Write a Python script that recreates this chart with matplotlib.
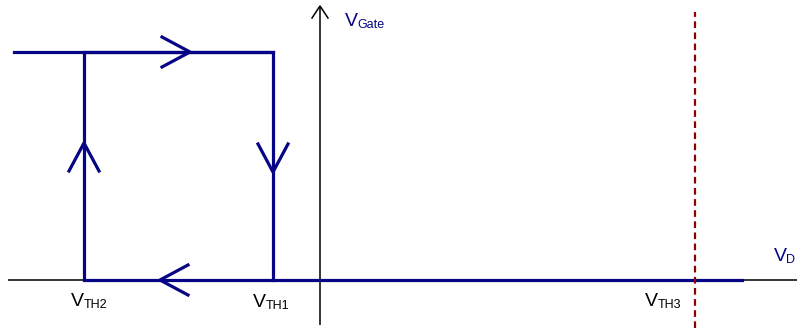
import matplotlib
matplotlib.use("Agg")
import matplotlib.pyplot as plt

plt.rcParams['font.family'] = ['Liberation Sans', 'DejaVu Sans']

# Diagram values (drain voltage on x, gate voltage on y, arbitrary units)
v_th2 = -236
v_th1 = -47
v_th3 = 375
gate_low = 0
gate_high = 228
sweep_start = -306
sweep_end = 422

# Loop path: top level, down at VTH1, back along bottom, up at VTH2
loop_x = [sweep_start, v_th1, v_th1]
loop_y = [gate_high, gate_high, gate_low]
return_x = [sweep_end, v_th2, v_th2, v_th1]
return_y = [gate_low, gate_low, gate_high, gate_high]

# Direction markers: (x, y, direction)
arrows = [(-130, gate_high, 'right'),
          (v_th1, 108, 'down'),
          (v_th2, 137, 'up'),
          (-160, gate_low, 'left')]

blue = '#050585'
red = '#8b0000'

fig = plt.figure(figsize=(7.97, 3.28), dpi=100)
ax = fig.add_axes([0, 0, 1, 1])
ax.set_xlim(-320, 477)
ax.set_ylim(-48, 280)
ax.axis('off')

# Axes of the diagram
ax.plot([-312, 477], [0, 0], color='black', lw=1.1, solid_capstyle='butt')
ax.plot([0, 0], [-45, 274], color='black', lw=1.1, solid_capstyle='butt')
ax.plot([-8, 0, 8], [262, 274, 262], color='black', lw=1.1)

# Hysteresis loop
ax.plot(loop_x, loop_y, color=blue, lw=2.3, solid_joinstyle='miter')
ax.plot(return_x, return_y, color=blue, lw=2.3, solid_joinstyle='miter')

# Chevrons
L, W = 28, 15
for x, y, d in arrows:
    if d == 'right':
        xs, ys = [x - L, x, x - L], [y + W, y, y - W]
    elif d == 'left':
        xs, ys = [x + L, x, x + L], [y + W, y, y - W]
    elif d == 'down':
        xs, ys = [x - W, x, x + W], [y + L, y, y + L]
    else:
        xs, ys = [x - W, x, x + W], [y - L, y, y - L]
    ax.plot(xs, ys, color=blue, lw=2.3)

# VTH3 dashed marker
ax.plot([v_th3, v_th3], [-48, 268], color=red, lw=1.6, ls=(0, (3, 2)))


def label(x, y, main, sub, color, size=14, subsize=9):
    ax.text(x, y, main, color=color, fontsize=size, ha='left', va='baseline')
    ax.text(x + 12.5, y - 2, sub, color=color, fontsize=subsize,
            ha='left', va='baseline')


label(v_th2 - 13, -26, 'V', 'TH2', 'black')
label(v_th1 - 20, -27, 'V', 'TH1', 'black')
label(v_th3 - 50, -26, 'V', 'TH3', 'black')
label(25, 254, 'V', 'Gate', blue)
label(454, 19, 'V', 'D', blue)

fig.savefig('out.png', dpi=100)
